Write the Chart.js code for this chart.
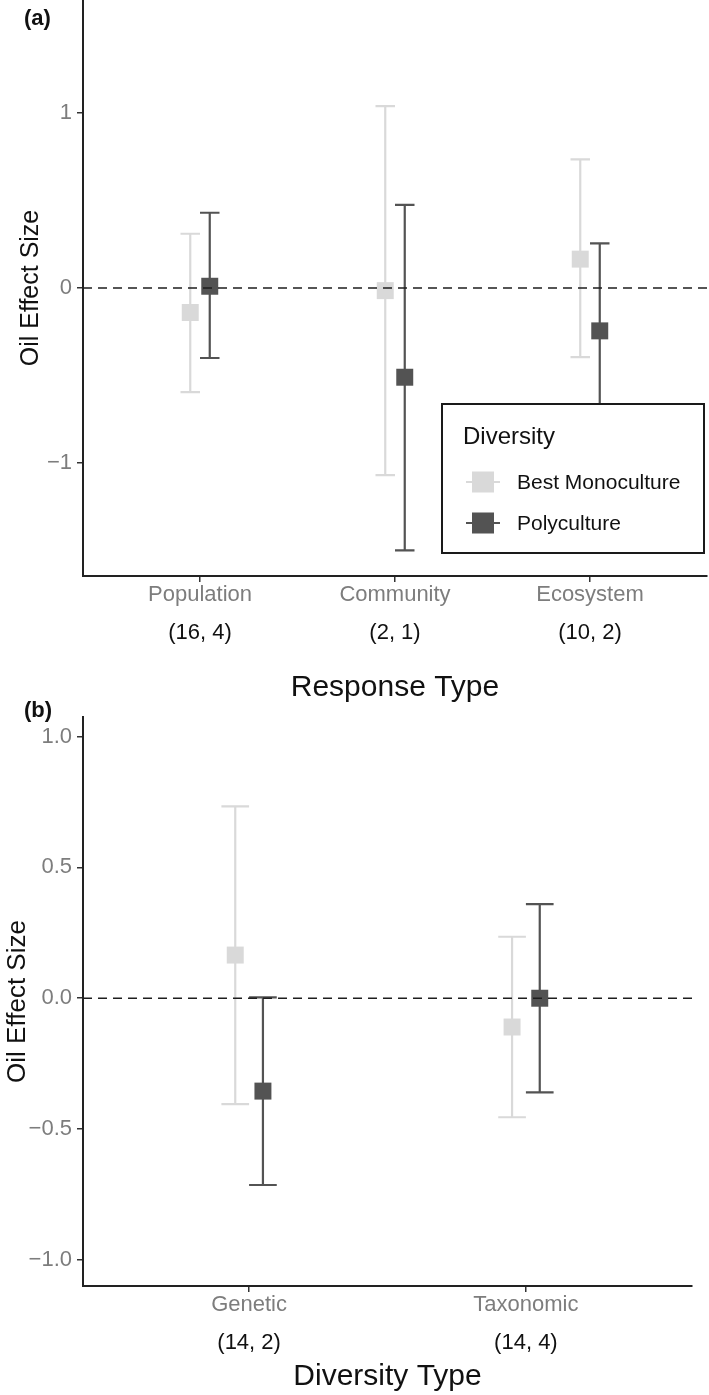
<!DOCTYPE html>
<html>
<head>
<meta charset="utf-8">
<script src="https://cdn.jsdelivr.net/npm/chart.js@4.4.1/dist/chart.umd.min.js"></script>
<style>
  html, body { margin: 0; padding: 0; background: #fff; }
  body { width: 709px; height: 1395px; position: relative; overflow: hidden; }
  canvas { position: absolute; left: 0; }
  #panelA { top: 0; }
  #panelB { top: 700px; }
</style>
</head>
<body>
<canvas id="panelA" width="709" height="706"></canvas>
<canvas id="panelB" width="709" height="695"></canvas>
<script>
// series
const seriesNames = ['Best Monoculture', 'Polyculture'];
const seriesColors = ['#d9d9d9', '#535353'];

// panel (a): response type
const responseTypes = ['Population', 'Community', 'Ecosystem'];
const responseCounts = ['(16, 4)', '(2, 1)', '(10, 2)'];
const monoA = [-0.14, -0.015, 0.165];
const monoALow = [-0.595, -1.07, -0.395];
const monoAHigh = [0.31, 1.04, 0.735];
const polyA = [0.01, -0.51, -0.245];
const polyALow = [-0.40, -1.50, -0.74];
const polyAHigh = [0.43, 0.475, 0.255];
const ticksA = [-1, 0, 1];

// panel (b): diversity type
const diversityTypes = ['Genetic', 'Taxonomic'];
const diversityCounts = ['(14, 2)', '(14, 4)'];
const monoB = [0.165, -0.11];
const monoBLow = [-0.405, -0.455];
const monoBHigh = [0.733, 0.235];
const polyB = [-0.355, 0.0];
const polyBLow = [-0.714, -0.36];
const polyBHigh = [0.003, 0.36];
const ticksB = [-1, -0.5, 0, 0.5, 1];

const FONT = "'Liberation Sans', Arial, Helvetica, sans-serif";
Chart.defaults.font.family = FONT;
const dodge = 0.05;
const capHalf = 0.05;

const minus = (s) => s.replace('-', '\u2212');

const noPad = (s) => {
  s.paddingTop = 0; s.paddingBottom = 0;
  s.paddingLeft = 0; s.paddingRight = 0;
};

const errorBars = {
  id: 'errorBars',
  beforeDatasetsDraw(chart) {
    const { ctx, scales: { x, y } } = chart;
    chart.data.datasets.forEach((ds) => {
      ctx.save();
      ctx.strokeStyle = ds.backgroundColor;
      ctx.lineWidth = 2.2;
      ds.data.forEach((p, i) => {
        const px = x.getPixelForValue(p.x);
        const half = x.getPixelForValue(p.x + capHalf) - px;
        const top = y.getPixelForValue(ds.high[i]);
        const bot = y.getPixelForValue(ds.low[i]);
        ctx.beginPath();
        ctx.moveTo(px, top); ctx.lineTo(px, bot);
        ctx.moveTo(px - half, top); ctx.lineTo(px + half, top);
        ctx.moveTo(px - half, bot); ctx.lineTo(px + half, bot);
        ctx.stroke();
      });
      ctx.restore();
    });
  },
  afterDatasetsDraw(chart) {
    // dashed reference line at zero
    const { ctx, chartArea, scales: { y } } = chart;
    const py = y.getPixelForValue(0);
    ctx.save();
    ctx.strokeStyle = '#1e1e1e';
    ctx.lineWidth = 1.6;
    ctx.setLineDash([9, 6]);
    ctx.beginPath();
    ctx.moveTo(chartArea.left, py);
    ctx.lineTo(chartArea.right, py);
    ctx.stroke();
    ctx.restore();
  },
  afterDraw(chart, args, opts) {
    const { ctx, chartArea, scales: { x } } = chart;
    ctx.save();
    // counts under category labels
    ctx.fillStyle = '#111';
    ctx.font = '22px ' + FONT;
    ctx.textAlign = 'center';
    ctx.textBaseline = 'middle';
    opts.counts.forEach((c, i) => {
      ctx.fillText(c, x.getPixelForValue(i + 1), chartArea.bottom + 57);
    });
    // panel tag
    ctx.font = 'bold 22px ' + FONT;
    ctx.textAlign = 'left';
    ctx.fillText(opts.tag, 24, opts.tagY);
    ctx.restore();
  }
};

const boxLegend = {
  id: 'boxLegend',
  afterDraw(chart) {
    const { ctx, chartArea } = chart;
    const right = chartArea.right - 3;
    const bottom = chartArea.bottom - 23;
    const w = 262, h = 149;
    const left = right - w, top = bottom - h;
    ctx.save();
    ctx.fillStyle = '#fff';
    ctx.fillRect(left, top, w, h);
    ctx.strokeStyle = '#1a1a1a';
    ctx.lineWidth = 2;
    ctx.strokeRect(left, top, w, h);
    ctx.fillStyle = '#111';
    ctx.textBaseline = 'middle';
    ctx.textAlign = 'left';
    ctx.font = '24px ' + FONT;
    ctx.fillText('Diversity', left + 21, top + 33);
    chart.data.datasets.forEach((ds, i) => {
      const cy = top + 78 + i * 41;
      const cx = left + 41;
      ctx.strokeStyle = ds.backgroundColor;
      ctx.lineWidth = 2;
      ctx.beginPath();
      ctx.moveTo(cx - 17, cy);
      ctx.lineTo(cx + 17, cy);
      ctx.stroke();
      ctx.fillStyle = ds.backgroundColor;
      ctx.fillRect(cx - 11, cy - 10.5, 22, 21);
      ctx.fillStyle = '#111';
      ctx.font = '21px ' + FONT;
      ctx.fillText(ds.label, left + 75, cy + 1);
    });
    ctx.restore();
  }
};

function series(values, low, high, idx) {
  return {
    label: seriesNames[idx],
    data: values.map((v, i) => ({ x: i + 1 + (idx === 0 ? -dodge : dodge), y: v })),
    low: low,
    high: high,
    backgroundColor: seriesColors[idx],
    borderWidth: 0,
    pointStyle: 'rect',
    pointRadius: 12,
    pointHoverRadius: 12
  };
}

function makeChart(id, o) {
  return new Chart(document.getElementById(id).getContext('2d'), {
    type: 'scatter',
    data: { datasets: o.datasets },
    plugins: o.plugins,
    options: {
      responsive: false,
      animation: false,
      devicePixelRatio: 1,
      layout: {
        autoPadding: false,
        padding: { top: o.padTop, right: o.padRight, left: 0, bottom: 0 }
      },
      plugins: {
        legend: { display: false },
        tooltip: { enabled: false },
        errorBars: { counts: o.counts, tag: o.tag, tagY: o.tagY }
      },
      scales: {
        x: {
          type: 'linear',
          min: 0.4,
          max: o.categories.length + 0.6,
          afterBuildTicks: (s) => { s.ticks = o.categories.map((c, i) => ({ value: i + 1 })); },
          afterFit: (s) => { s.height = o.xHeight; noPad(s); },
          ticks: {
            color: '#7d7d7d',
            font: { size: 22 },
            padding: 0,
            callback: (v) => o.categories[Math.round(v) - 1]
          },
          grid: { drawOnChartArea: false, tickLength: 6, tickColor: '#333', lineWidth: 1.5 },
          border: { color: '#222', width: 2 },
          title: {
            display: true,
            text: o.xTitle,
            color: '#111',
            font: { size: 30 },
            padding: { top: 0, bottom: o.xTitlePad }
          }
        },
        y: {
          min: o.yMin,
          max: o.yMax,
          afterBuildTicks: (s) => { s.ticks = o.yTicks.map((v) => ({ value: v })); },
          afterFit: (s) => { s.width = 83; noPad(s); },
          ticks: {
            color: '#7d7d7d',
            font: { size: 22 },
            padding: 5,
            callback: (v) => minus(o.yFormat(v))
          },
          grid: { drawOnChartArea: false, tickLength: 6, tickColor: '#333', lineWidth: 1.5 },
          border: { color: '#222', width: 2 },
          title: {
            display: true,
            text: 'Oil Effect Size',
            color: '#111',
            font: { size: o.yTitleSize },
            padding: { top: o.yTitlePad, bottom: 0 }
          }
        }
      }
    }
  });
}

makeChart('panelA', {
  datasets: [series(monoA, monoALow, monoAHigh, 0), series(polyA, polyALow, polyAHigh, 1)],
  plugins: [errorBars, boxLegend],
  categories: responseTypes,
  counts: responseCounts,
  tag: '(a)', tagY: 19,
  padTop: 0, padRight: 2,
  xHeight: 130, xTitle: 'Response Type', xTitlePad: 0,
  yMin: -1.646, yMax: 1.646, yTicks: ticksA,
  yFormat: (v) => String(v),
  yTitleSize: 25, yTitlePad: 16
});

makeChart('panelB', {
  datasets: [series(monoB, monoBLow, monoBHigh, 0), series(polyB, polyBLow, polyBHigh, 1)],
  plugins: [errorBars],
  categories: diversityTypes,
  counts: diversityCounts,
  tag: '(b)', tagY: 11,
  padTop: 17, padRight: 17,
  xHeight: 109, xTitle: 'Diversity Type', xTitlePad: 0,
  yMin: -1.1, yMax: 1.075, yTicks: ticksB,
  yFormat: (v) => v.toFixed(1),
  yTitleSize: 26, yTitlePad: 2
});
</script>
</body>
</html>
